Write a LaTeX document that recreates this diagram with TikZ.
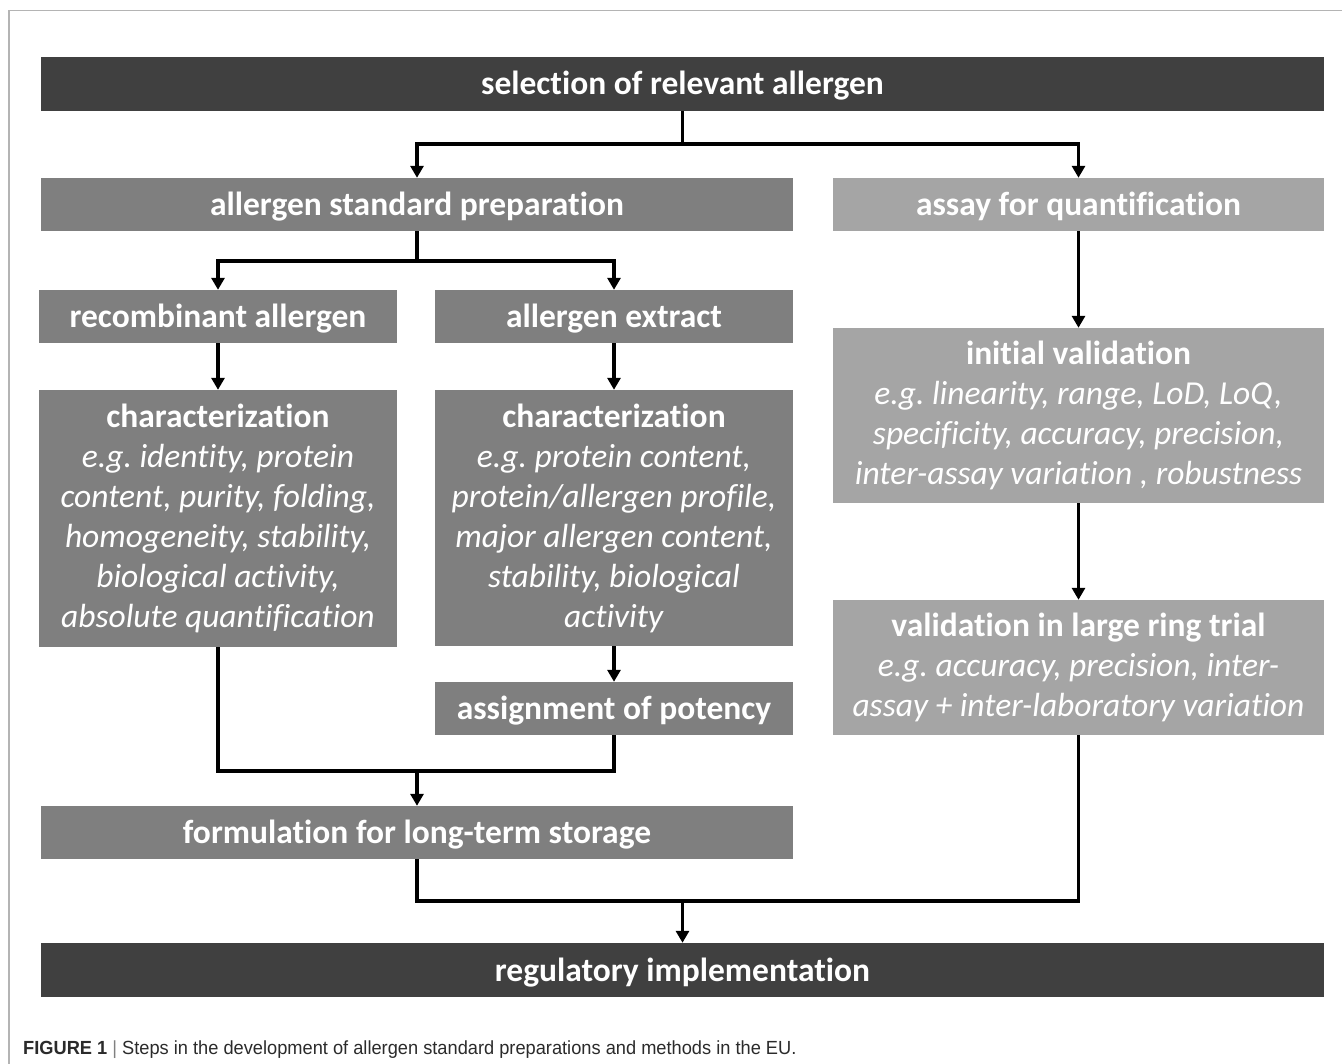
\documentclass[tikz,border=0pt]{standalone}
\usepackage{fontspec}
\setmainfont{Carlito}[Ligatures=NoCommon]
\newfontfamily\capfont{Liberation Sans}
\usetikzlibrary{arrows.meta}
\definecolor{cdark}{HTML}{404040}
\definecolor{cmid}{HTML}{7F7F7F}
\definecolor{clight}{HTML}{A5A5A5}
\definecolor{cframe}{HTML}{B4B4B4}
\definecolor{ccap}{HTML}{2B2B2B}
\frenchspacing
\begin{document}
\begin{tikzpicture}[x=1pt,y=-1pt,
  box/.style={rectangle, inner sep=0pt, text=white, align=center,
    font=\fontsize{33.5}{40}\selectfont},
  oneline/.style={text height=28pt, text depth=6pt},
  darkbox/.style={box, fill=cdark},
  midbox/.style={box, fill=cmid},
  lightbox/.style={box, fill=clight},
  conn/.style={line width=3.4pt, line join=miter, black},
  arr/.style={conn, -{Triangle[width=13pt,length=12pt]}}
]
\useasboundingbox (0,0) rectangle (1342,1064);
\fill[white] (0,0) rectangle (1342,1064);
\draw[cframe, line width=1.2pt] (9,1064) -- (9,10.5) -- (1342,10.5);

\node[darkbox, oneline, minimum width=1283pt, minimum height=54pt] (sel) at (682.5,84) {\bfseries selection of relevant allergen};
\node[midbox, oneline, minimum width=752pt, minimum height=53pt] (asp) at (417,204.5) {\bfseries allergen standard preparation};
\node[lightbox, oneline, minimum width=491pt, minimum height=53pt] (aq) at (1078.5,204.5) {\bfseries assay for quantification};
\node[midbox, oneline, minimum width=358pt, minimum height=53pt] (rec) at (218,316.5) {\bfseries recombinant allergen};
\node[midbox, oneline, minimum width=358pt, minimum height=53pt] (ext) at (614,316.5) {\bfseries allergen extract};
\node[midbox, minimum width=358pt, minimum height=257pt] (charL) at (218,518.5) {\textbf{characterization}\\ \textit{e.g. identity, protein}\\ \textit{content, purity, folding,}\\ \textit{homogeneity, stability,}\\ \textit{biological activity,}\\ \textit{absolute quantification}};
\node[midbox, minimum width=358pt, minimum height=256pt] (charR) at (614,518) {\textbf{characterization}\\ \textit{e.g. protein content,}\\ \textit{protein/allergen profile,}\\ \textit{major allergen content,}\\ \textit{stability, biological}\\ \textit{activity}};
\node[midbox, oneline, minimum width=358pt, minimum height=53pt] (pot) at (614,708.5) {\bfseries assignment of potency};
\node[midbox, oneline, minimum width=752pt, minimum height=53pt] (form) at (417,832.5) {\bfseries formulation for long-term storage};
\node[lightbox, minimum width=491pt, minimum height=175pt] (iv) at (1078.5,415.5) {\textbf{initial validation}\\ \textit{e.g. linearity, range, LoD, LoQ,}\\ \textit{specificity, accuracy, precision,}\\ \textit{inter-assay variation , robustness}};
\node[lightbox, minimum width=491pt, minimum height=135pt] (vr) at (1078.5,667.5) {\textbf{validation in large ring trial}\\ \textit{e.g. accuracy, precision, inter-}\\ \textit{assay + inter-laboratory variation}};
\node[darkbox, oneline, minimum width=1283pt, minimum height=54pt] (reg) at (682.5,970) {\bfseries regulatory implementation};

\coordinate (j1) at (682.5,144);
\coordinate (j2) at (417,261);
\coordinate (j3) at (417,771);
\coordinate (j4) at (682.5,901);

\draw[conn] (sel.south) -- (j1);
\draw[arr] (j1) -| (asp.north);
\draw[arr] (j1) -| (aq.north);
\draw[conn] (asp.south) -- (j2);
\draw[arr] (j2) -| (rec.north);
\draw[arr] (j2) -| (ext.north);
\draw[arr] (rec.south) -- (charL.north);
\draw[arr] (ext.south) -- (charR.north);
\draw[arr] (charR.south) -- (pot.north);
\draw[conn] (charL.south) |- (j3);
\draw[conn] (pot.south) |- (j3);
\draw[arr] (j3) -- (form.north);
\draw[arr] (aq.south) -- (iv.north);
\draw[arr] (iv.south) -- (vr.north);
\draw[conn] (form.south) |- (j4);
\draw[conn] (vr.south) |- (j4);
\draw[arr] (j4) -- (reg.north);

\node[anchor=base west, inner sep=0pt, text=ccap, font=\capfont\fontsize{19}{22}\selectfont] (cap) at (23,1054)
  {\scalebox{0.96}[1]{\textbf{FIGURE 1} {\color{gray}|} Steps in the development of allergen standard preparations and methods in the EU.}};
\end{tikzpicture}
\end{document}
